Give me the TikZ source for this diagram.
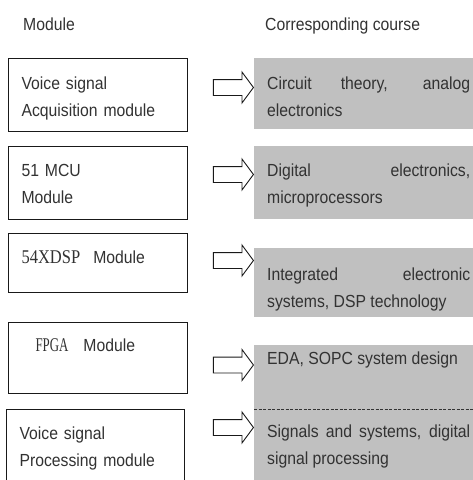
\documentclass[tikz,border=0pt]{standalone}
\usepackage{fontspec}
\setmainfont{Liberation Sans}[FakeStretch=0.9]
\newfontfamily\tmsfont{Liberation Serif}[FakeStretch=0.85, Scale=1.11]
\usepackage{graphicx}
\usetikzlibrary{shapes.arrows}
\definecolor{txtgray}{RGB}{50,50,50}
\definecolor{crsgray}{RGB}{192,192,192}
\definecolor{boxline}{RGB}{25,25,25}
\newcommand{\figfont}{\fontsize{17.5}{27}\selectfont}

\begin{document}
\begin{tikzpicture}[x=1pt, y=-1pt,
    hdr/.style={font=\figfont, text=txtgray, inner sep=0pt, anchor=base west},
    modbox/.style={rectangle, draw=boxline, line width=1.1pt, anchor=north west, text width=153pt, inner xsep=13pt, inner ysep=0pt, align=left, font=\figfont, text=txtgray},
    crsbox/.style={rectangle, fill=crsgray, anchor=north west, text width=203pt, inner xsep=13pt, inner ysep=0pt, align=justify, font=\figfont, text=txtgray},
    blockarr/.style={single arrow, draw=boxline, fill=white, line width=0.9pt, anchor=tip, inner xsep=0pt, inner ysep=7.5pt, minimum height=40pt, single arrow head extend=7.5pt, single arrow tip angle=107},
    sepline/.style={dash pattern=on 3pt off 1.5pt, draw=black!80, line width=0.6pt}]
    \useasboundingbox (0,0) rectangle (473,480);
    % Column heads
    \node[hdr] (hmod) at (23,30) {Module};
    \node[hdr] (hcrs) at (265,30) {Corresponding course};
    % Courses (grey column)
    \node[crsbox, text height=31pt, text depth=40pt] (crs1) at (254,58) {Circuit theory, analog\linebreak electronics};
    \node[crsbox, text height=30pt, text depth=43pt] (crs2) at (254,146) {Digital electronics,\linebreak microprocessors};
    \node[crsbox, text height=32pt, text depth=37pt] (crs3) at (254,248) {Integrated electronic\linebreak systems, DSP technology};
    \node[crsbox, text height=19pt, text depth=45pt] (crs4) at (254,345) {EDA, SOPC system design};
    \node[crsbox, text height=28pt, text depth=48pt] (crs5) at (254,409) {Signals and systems, digital\linebreak signal processing};
    \draw[sepline] (crs4.south west) -- (crs4.south east);
    % Arrows
    \node[blockarr] (arr1) at (254,87.5) {};
    \node[blockarr] (arr2) at (254,174.5) {};
    \node[blockarr] (arr3) at (254,260.5) {};
    \node[blockarr] (arr4) at (254,365) {};
    \node[blockarr] (arr5) at (254,427.5) {};
    % Modules
    \node[modbox, text height=31pt, text depth=42pt] (mod1) at (8,58) {Voice signal\\Acquisition module};
    \node[modbox, text height=30pt, text depth=43pt] (mod2) at (8,146) {51 MCU\\Module};
    \node[modbox, text height=30pt, text depth=29pt] (mod3) at (8,233) {{\tmsfont 54XDSP}\hspace{13pt}Module};
    \node[modbox, text height=29pt, text depth=42pt, inner xsep=27pt, text width=125pt] (mod4) at (8,322) {{\tmsfont\scalebox{0.78}[1]{FPGA}}\hspace{15pt}Module};
    \node[modbox, text height=30pt, text depth=45pt, text width=152pt] (mod5) at (6,409) {Voice signal\\Processing module};
\end{tikzpicture}
\end{document}
